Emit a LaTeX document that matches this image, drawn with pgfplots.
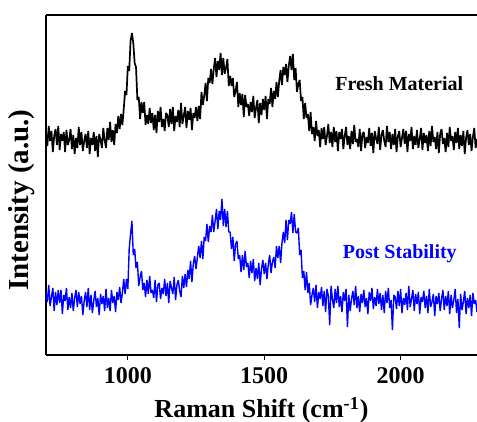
\documentclass[border=0pt]{standalone}
\usepackage{fontspec}
\setmainfont{Liberation Serif}
\usepackage{pgfplots}
\pgfplotsset{compat=1.18}
\begin{document}
\begin{tikzpicture}
\begin{axis}[
  scale only axis,
  width=215.5pt, height=170pt,
  xmin=700, xmax=2280, ymin=0, ymax=340,
  axis x line=box, axis y line*=left,
  xtick={1000,1500,2000}, ytick=\empty,
  xtick pos=bottom,
  tick align=outside,
  major tick length=2.5pt,
  axis line style={line width=1pt},
  every tick/.style={black, line width=0.6pt},
  /pgf/number format/assume math mode=true,
  /pgf/number format/1000 sep={},
  ticklabel style={font=\fontsize{12}{12}\selectfont\bfseries},
  xlabel={Raman Shift (cm\textsuperscript{-1})},
  xlabel style={font=\fontsize{13}{13}\selectfont\bfseries},
  ylabel={Intensity (a.u.)},
  ylabel style={font=\fontsize{14.5}{14.5}\selectfont\bfseries, at={(axis description cs:-0.056,0.456)}, anchor=center},
  clip=true,
]
\addplot[black, line width=0.85pt, line join=bevel] coordinates {
(700,222)(705,209)(710,229)(715,214)(720,224)(725,203)(730,219)(735,226)(740,210)(745,229)
(750,205)(755,221)(760,214)(765,223)(770,203)(775,225)(780,210)(785,215)(790,226)(795,206)
(800,220)(805,201)(810,217)(815,207)(820,228)(825,210)(830,223)(835,204)(840,214)(845,221)
(850,207)(855,224)(860,201)(865,217)(870,210)(875,223)(880,204)(885,219)(890,198)(895,221)
(900,215)(905,207)(910,227)(915,215)(920,207)(925,227)(930,215)(935,233)(940,213)(945,225)
(950,210)(955,231)(960,222)(965,239)(970,226)(975,241)(980,230)(985,246)(990,264)(995,260)
(1000,289)(1005,284)(1010,314)(1015,322)(1020,312)(1025,292)(1030,288)(1035,255)(1040,258)(1045,236)
(1050,253)(1055,242)(1060,253)(1065,230)(1070,240)(1075,231)(1080,247)(1085,232)(1090,242)(1095,225)
(1100,240)(1105,222)(1110,244)(1115,233)(1120,248)(1125,228)(1130,236)(1135,224)(1140,242)(1145,240)
(1150,228)(1155,246)(1160,231)(1165,248)(1170,224)(1175,239)(1180,233)(1185,245)(1190,228)(1195,252)
(1200,231)(1205,239)(1210,248)(1215,227)(1220,244)(1225,235)(1230,247)(1235,225)(1240,242)(1245,237)
(1250,248)(1255,234)(1260,249)(1265,236)(1270,263)(1275,250)(1280,259)(1285,272)(1290,254)(1295,277)
(1300,272)(1305,286)(1310,271)(1315,286)(1320,297)(1325,278)(1330,294)(1335,285)(1340,302)(1345,280)
(1350,297)(1355,281)(1360,287)(1365,296)(1370,269)(1375,279)(1380,269)(1385,277)(1390,258)(1395,264)
(1400,273)(1405,248)(1410,262)(1415,250)(1420,261)(1425,238)(1430,260)(1435,248)(1440,251)(1445,239)
(1450,253)(1455,243)(1460,259)(1465,237)(1470,247)(1475,255)(1480,232)(1485,252)(1490,240)(1495,256)
(1500,245)(1505,259)(1510,236)(1515,256)(1520,251)(1525,267)(1530,248)(1535,264)(1540,256)(1545,273)
(1550,258)(1555,274)(1560,285)(1565,270)(1570,288)(1575,280)(1580,291)(1585,273)(1590,289)(1595,299)
(1600,285)(1605,301)(1610,275)(1615,287)(1620,263)(1625,271)(1630,275)(1635,254)(1640,258)(1645,236)
(1650,252)(1655,237)(1660,241)(1665,224)(1670,243)(1675,221)(1680,228)(1685,214)(1690,234)(1695,219)
(1700,225)(1705,208)(1710,227)(1715,216)(1720,228)(1725,210)(1730,219)(1735,231)(1740,212)(1745,223)
(1750,208)(1755,228)(1760,213)(1765,224)(1770,204)(1775,223)(1780,216)(1785,226)(1790,206)(1795,219)
(1800,228)(1805,210)(1810,219)(1815,206)(1820,224)(1825,211)(1830,230)(1835,213)(1840,216)(1845,208)
(1850,226)(1855,204)(1860,221)(1865,223)(1870,207)(1875,218)(1880,212)(1885,227)(1890,209)(1895,222)
(1900,202)(1905,224)(1910,217)(1915,211)(1920,228)(1925,205)(1930,220)(1935,225)(1940,214)(1945,208)
(1950,229)(1955,213)(1960,223)(1965,206)(1970,221)(1975,210)(1980,226)(1985,203)(1990,219)(1995,224)
(2000,208)(2005,217)(2010,226)(2015,211)(2020,224)(2025,203)(2030,221)(2035,214)(2040,228)(2045,206)
(2050,219)(2055,210)(2060,225)(2065,207)(2070,216)(2075,227)(2080,205)(2085,222)(2090,212)(2095,220)
(2100,204)(2105,224)(2110,209)(2115,229)(2120,213)(2125,218)(2130,206)(2135,223)(2140,202)(2145,221)
(2150,226)(2155,211)(2160,217)(2165,203)(2170,222)(2175,208)(2180,228)(2185,214)(2190,219)(2195,205)
(2200,223)(2205,212)(2210,227)(2215,206)(2220,220)(2225,209)(2230,224)(2235,201)(2240,217)(2245,225)
(2250,210)(2255,221)(2260,204)(2265,218)(2270,227)(2275,207)(2280,216)
};
\addplot[blue, line width=0.7pt, line join=bevel] coordinates {
(700,63)(705,53)(710,70)(715,49)(720,58)(725,67)(730,44)(735,63)(740,50)(745,65)
(750,52)(755,65)(760,41)(765,60)(770,54)(775,67)(780,45)(785,58)(790,47)(795,62)
(800,44)(805,57)(810,65)(815,48)(820,63)(825,51)(830,59)(835,40)(840,54)(845,63)
(850,48)(855,67)(860,45)(865,60)(870,42)(875,54)(880,64)(885,48)(890,57)(895,40)
(900,61)(905,51)(910,59)(915,44)(920,66)(925,47)(930,57)(935,44)(940,65)(945,52)
(950,59)(955,43)(960,63)(965,55)(970,68)(975,52)(980,62)(985,76)(990,61)(995,76)
(1000,66)(1005,106)(1010,121)(1015,134)(1020,100)(1025,106)(1030,87)(1035,93)(1040,69)(1045,78)
(1050,84)(1055,65)(1060,72)(1065,58)(1070,75)(1075,61)(1080,79)(1085,62)(1090,65)(1095,57)
(1100,75)(1105,53)(1110,70)(1115,72)(1120,56)(1125,67)(1130,61)(1135,76)(1140,59)(1145,72)
(1150,52)(1155,74)(1160,67)(1165,61)(1170,78)(1175,55)(1180,70)(1185,75)(1190,64)(1195,58)
(1200,79)(1205,67)(1210,81)(1215,68)(1220,85)(1225,76)(1230,94)(1235,73)(1240,91)(1245,99)
(1250,86)(1255,98)(1260,109)(1265,97)(1270,114)(1275,96)(1280,118)(1285,114)(1290,131)(1295,113)
(1300,129)(1305,123)(1310,140)(1315,123)(1320,134)(1325,146)(1330,126)(1335,144)(1340,135)(1345,156)
(1350,129)(1355,146)(1360,128)(1365,144)(1370,123)(1375,123)(1380,106)(1385,118)(1390,94)(1395,111)
(1400,114)(1405,96)(1410,100)(1415,83)(1420,100)(1425,85)(1430,104)(1435,88)(1440,92)(1445,77)
(1450,94)(1455,82)(1460,96)(1465,74)(1470,87)(1475,76)(1480,92)(1485,70)(1490,86)(1495,95)
(1500,81)(1505,92)(1510,76)(1515,91)(1520,100)(1525,82)(1530,93)(1535,98)(1540,87)(1545,109)
(1550,97)(1555,109)(1560,92)(1565,112)(1570,123)(1575,112)(1580,135)(1585,115)(1590,135)(1595,131)
(1600,143)(1605,122)(1610,141)(1615,123)(1620,122)(1625,127)(1630,100)(1635,105)(1640,77)(1645,84)
(1650,65)(1655,83)(1660,62)(1665,72)(1670,50)(1675,60)(1680,67)(1685,53)(1690,70)(1695,47)
(1700,63)(1705,56)(1710,68)(1715,49)(1720,64)(1725,43)(1730,66)(1735,59)(1740,30)(1745,69)
(1750,56)(1755,47)(1760,66)(1765,52)(1770,69)(1775,48)(1780,59)(1785,43)(1790,63)(1795,54)
(1800,66)(1805,28)(1810,60)(1815,44)(1820,56)(1825,64)(1830,50)(1835,69)(1840,47)(1845,59)
(1850,43)(1855,61)(1860,52)(1865,65)(1870,48)(1875,57)(1880,41)(1885,63)(1890,54)(1895,67)
(1900,46)(1905,58)(1910,49)(1915,66)(1920,51)(1925,62)(1930,45)(1935,60)(1940,42)(1945,64)
(1950,52)(1955,67)(1960,47)(1965,55)(1970,25)(1975,60)(1980,58)(1985,46)(1990,64)(1995,49)
(2000,66)(2005,42)(2010,57)(2015,50)(2020,62)(2025,45)(2030,69)(2035,48)(2040,56)(2045,65)
(2050,44)(2055,61)(2060,51)(2065,63)(2070,41)(2075,58)(2080,53)(2085,64)(2090,47)(2095,59)
(2100,42)(2105,66)(2110,48)(2115,53)(2120,61)(2125,39)(2130,59)(2135,51)(2140,62)(2145,44)
(2150,56)(2155,65)(2160,45)(2165,59)(2170,49)(2175,64)(2180,41)(2185,60)(2190,47)(2195,55)
(2200,66)(2205,42)(2210,56)(2215,27)(2220,61)(2225,45)(2230,53)(2235,64)(2240,41)(2245,57)
(2250,47)(2255,60)(2260,39)(2265,62)(2270,51)(2275,55)(2280,43)
};
\node[font=\fontsize{10}{10}\selectfont\bfseries, text=black] at (axis cs:1995,271) {Fresh Material};
\node[font=\fontsize{10}{10}\selectfont\bfseries, text=blue] at (axis cs:1997,101) {Post Stability};
\end{axis}
\pgfresetboundingbox
\useasboundingbox (current axis.south west) ++(-23pt,-33.5pt) rectangle ++(238.5pt,211pt);
\end{tikzpicture}
\end{document}
